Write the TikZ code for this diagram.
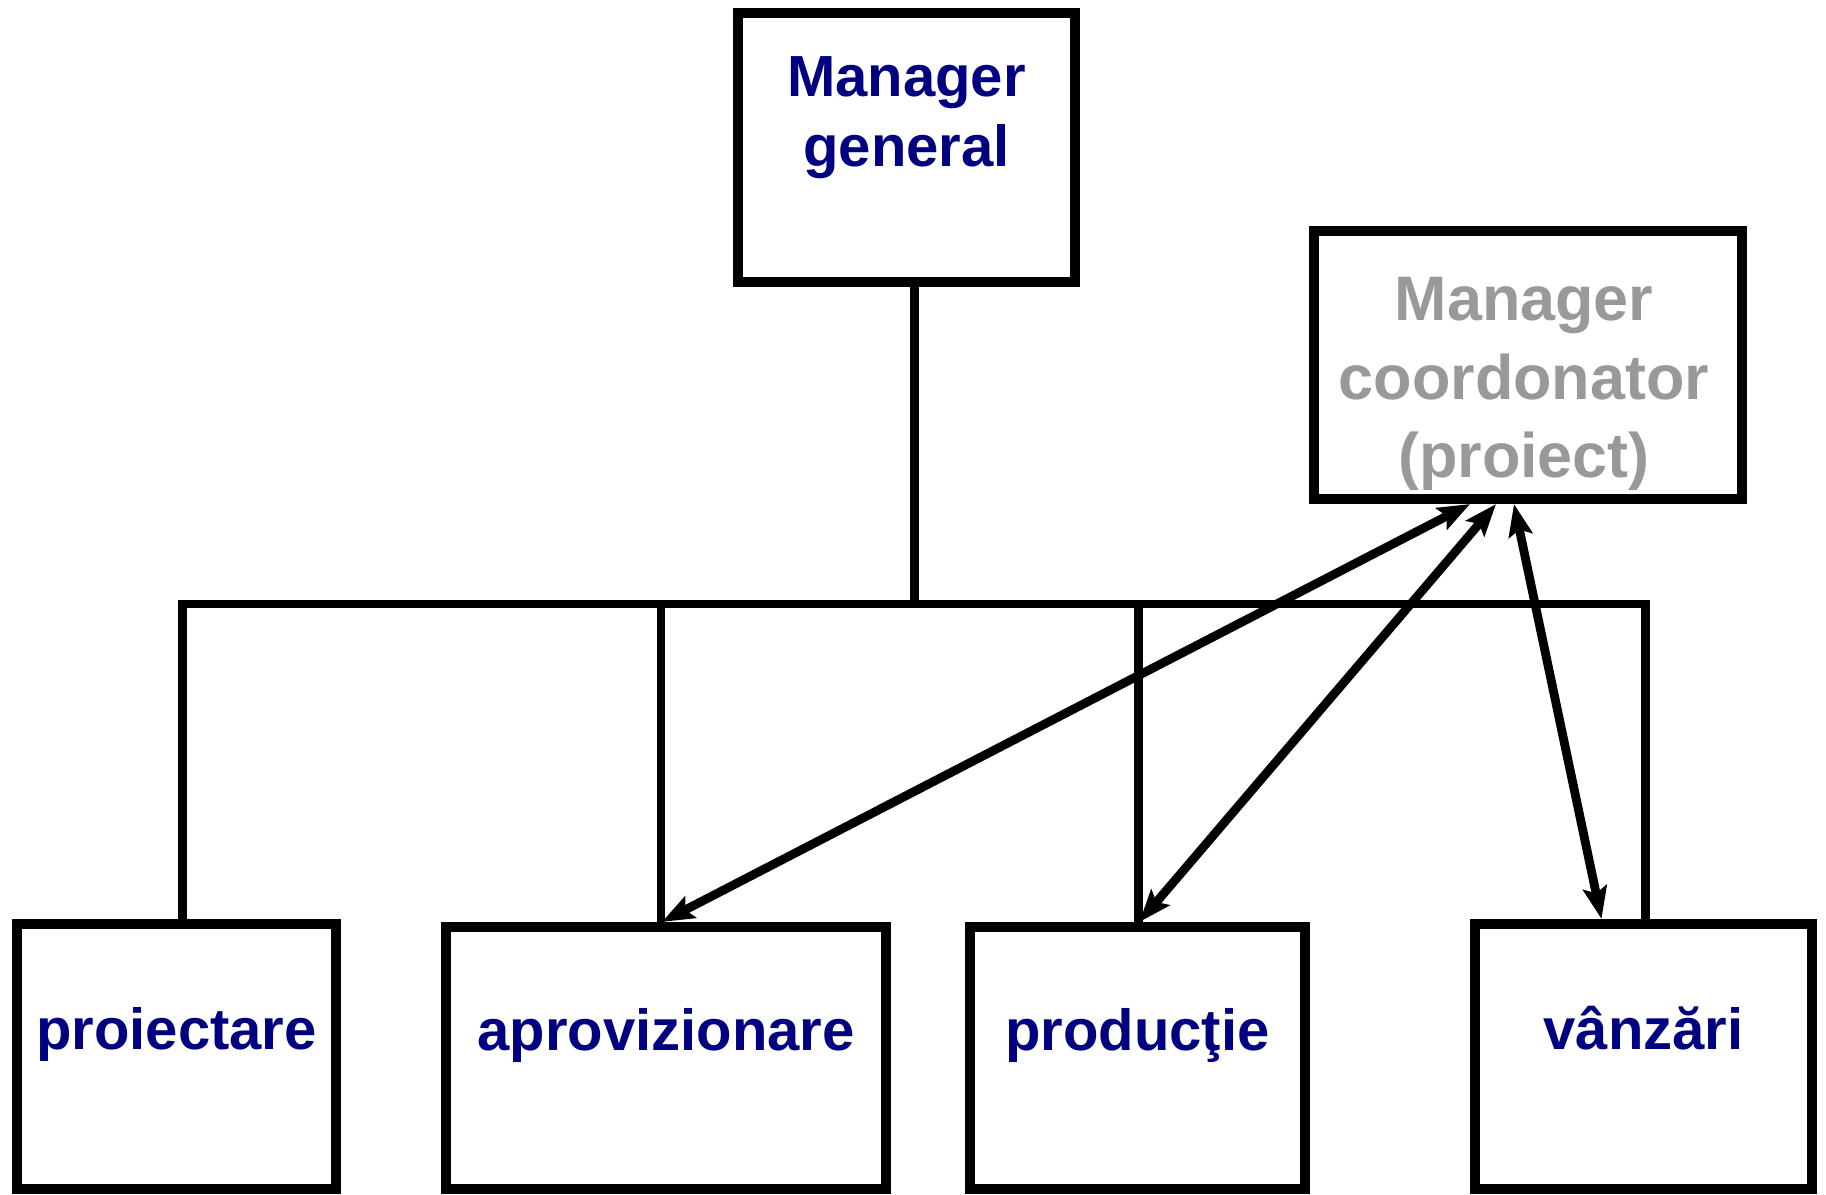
\documentclass[tikz,border=0pt]{standalone}
\usepackage{fontspec}
\setmainfont{Liberation Sans}
\usetikzlibrary{arrows.meta,calc}
\definecolor{deptblue}{RGB}{0,0,128}
\definecolor{coordgray}{RGB}{153,153,153}
\tikzset{
  unit/.style={draw=black,line width=2.85pt,fill=white,inner sep=0pt},
  dept/.style={unit,font=\fontsize{16.5pt}{19.9pt}\selectfont\bfseries,text=deptblue,
    text height=12pt,text depth=16pt},
  link/.style={line width=2.3pt},
  biarrow/.style={line width=2.5pt,{Stealth[length=0.32cm,width=0.24cm,inset=0.06cm]}-{Stealth[length=0.32cm,width=0.24cm,inset=0.06cm]}}
}
\begin{document}
\begin{tikzpicture}[x=0.01cm,y=-0.01cm]
    \useasboundingbox[fill=white] (0,0) rectangle (1826,1195);
    \node[unit,minimum width=3.37cm,minimum height=2.69cm] (mg) at (906.5,147.5) {};
    \node[anchor=north,align=center,inner sep=0pt,text=deptblue,
      font=\fontsize{16.5pt}{19.9pt}\selectfont\bfseries] (mgtxt) at (906.5,55.5) {Manager\\general};
    \node[unit,minimum width=4.28cm,minimum height=2.68cm] (mc) at (1528,365) {};
    \node[anchor=north,align=center,inner sep=0pt,text=coordgray,
      font=\fontsize{17.9pt}{22.2pt}\selectfont\bfseries] (mctxt) at (1524,277) {Manager\\coordonator\\(proiect)};
    \node[dept,minimum width=3.19cm,minimum height=2.65cm] (pr) at (176.5,1056.5) {proiectare};
    \node[dept,minimum width=4.40cm,minimum height=2.62cm] (apr) at (666,1058) {aprovizionare};
    \node[dept,minimum width=3.35cm,minimum height=2.62cm,xshift=-0.07cm] (prod) at (1144.5,1058) {producţie};
    \node[dept,minimum width=3.37cm,minimum height=2.65cm,xshift=-0.07cm] (vz) at (1650.5,1056.5) {vânzări};
    \coordinate (bus) at (0,604);
    \coordinate (mgdrop) at ($(mg.south)+(8,0)$);
    \coordinate (prdrop) at ($(pr.north)+(6,0)$);
    \coordinate (aprdrop) at ($(apr.north)+(-5,0)$);
    \coordinate (proddrop) at ($(prod.north)+(1,0)$);
    \coordinate (vzdrop) at ($(vz.north)+(2,0)$);
    \draw[link] (mgdrop) -- (mgdrop |- bus);
    \draw[link] (prdrop) -- (prdrop |- bus) -- (vzdrop |- bus) -- (vzdrop);
    \draw[link] (aprdrop) -- (aprdrop |- bus);
    \draw[link] (proddrop) -- (proddrop |- bus);
    \draw[biarrow] ($(mc.south)+(-58,0)$) -- ($(apr.north)+(-4,0)$);
    \draw[biarrow] ($(mc.south)+(-32,0)$) -- ($(prod.north)+(2,0)$);
    \draw[biarrow] ($(mc.south)+(-14,0)$) -- ($(vz.north)+(-42,0)$);
\end{tikzpicture}
\end{document}
